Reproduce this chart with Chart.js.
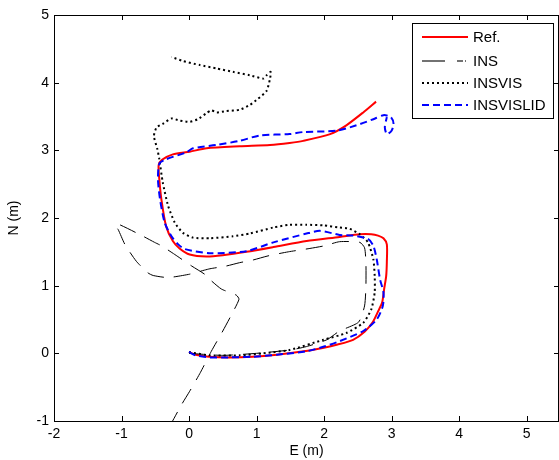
<!DOCTYPE html>
<html>
<head>
<meta charset="utf-8">
<script src="https://cdn.jsdelivr.net/npm/chart.js@4/dist/chart.umd.min.js"></script>
<style>
  html, body { margin: 0; padding: 0; background: #fff; }
  #plot { display: block; }
</style>
</head>
<body>
<canvas id="plot" width="559" height="460"></canvas>
<script>
// axis ticks
const eTicks = [-2, -1, 0, 1, 2, 3, 4, 5];
const nTicks = [-1, 0, 1, 2, 3, 4, 5];

// Ref. trajectory
const refE = [0, 0.1, 0.3, 0.6, 0.94, 1.3, 1.7, 1.98, 2.2, 2.43, 2.6, 2.72, 2.8, 2.86, 2.89, 2.92, 2.93, 2.93, 2.88, 2.8, 2.7, 2.53, 2.23, 1.74, 1.25, 0.85, 0.5, 0.26, 0.01, -0.14, -0.24, -0.34, -0.41, -0.44, -0.45, -0.4, -0.24, 0.01, 0.26, 0.75, 1.2, 1.49, 1.69, 2.09, 2.33, 2.58, 2.77];
const refN = [0.02, -0.02, -0.05, -0.06, -0.05, -0.02, 0.03, 0.08, 0.13, 0.2, 0.32, 0.46, 0.62, 0.75, 0.95, 1.14, 1.35, 1.61, 1.7, 1.74, 1.76, 1.76, 1.72, 1.66, 1.57, 1.5, 1.45, 1.43, 1.46, 1.55, 1.66, 1.88, 2.28, 2.57, 2.78, 2.86, 2.94, 2.98, 3.03, 3.06, 3.08, 3.11, 3.14, 3.24, 3.37, 3.56, 3.72];

// INS only
const insE = [0, 0.5, 1.0, 1.5, 1.74, 2.04, 2.23, 2.51, 2.6, 2.62, 2.62, 2.6, 2.53, 2.23, 2.01, 1.79, 1.47, 1.17, 0.95, 0.75, 0.55, 0.31, 0.23, 0.01, -0.31, -0.53, -0.61, -0.78, -0.95, -1.05, -1.1, -1.05, -0.68, -0.51, -0.41, -0.21, 0.04, 0.23, 0.31, 0.48, 0.7, 0.74, 0.65, 0.5, 0.33, 0.17, 0.01, -0.1, -0.26];
const insN = [0, -0.03, 0, 0.05, 0.1, 0.2, 0.33, 0.46, 0.7, 0.99, 1.34, 1.56, 1.64, 1.65, 1.59, 1.55, 1.5, 1.44, 1.38, 1.34, 1.29, 1.25, 1.23, 1.17, 1.12, 1.15, 1.19, 1.36, 1.61, 1.83, 1.89, 1.91, 1.73, 1.64, 1.59, 1.46, 1.29, 1.17, 1.09, 0.95, 0.86, 0.8, 0.61, 0.33, 0.03, -0.28, -0.56, -0.74, -1.03];

// INS + vision
const insvisE = [0, 0.3, 0.75, 1.1, 1.49, 1.99, 2.33, 2.58, 2.7, 2.75, 2.75, 2.73, 2.65, 2.53, 2.38, 2.23, 1.99, 1.74, 1.49, 1.25, 0.9, 0.65, 0.31, 0.06, -0.09, -0.21, -0.31, -0.39, -0.44, -0.47, -0.52, -0.48, -0.39, -0.26, -0.14, 0.01, 0.13, 0.26, 0.33, 0.41, 0.55, 0.75, 0.9, 1.02, 1.15, 1.2, 1.21, 1.15, 1.1, 0.9, 0.65, 0.41, 0.16, -0.09, -0.26];
const insvisN = [0.02, -0.03, -0.03, 0, 0.05, 0.2, 0.3, 0.45, 0.65, 0.9, 1.14, 1.39, 1.64, 1.76, 1.84, 1.86, 1.89, 1.9, 1.9, 1.86, 1.77, 1.73, 1.7, 1.71, 1.78, 1.93, 2.18, 2.53, 2.87, 3.02, 3.21, 3.34, 3.39, 3.47, 3.44, 3.42, 3.46, 3.55, 3.59, 3.56, 3.58, 3.6, 3.67, 3.76, 3.88, 4.06, 4.16, 4.11, 4.06, 4.11, 4.16, 4.21, 4.26, 4.32, 4.38];

// INS + vision + lidar
const lidE = [0, 0.1, 0.3, 0.6, 0.95, 1.3, 1.74, 2.0, 2.23, 2.58, 2.78, 2.87, 2.88, 2.83, 2.78, 2.73, 2.65, 2.43, 2.23, 1.94, 1.74, 1.25, 0.85, 0.31, -0.06, -0.16, -0.26, -0.36, -0.43, -0.46, -0.44, -0.36, -0.04, 0.06, 0.41, 0.75, 1.05, 1.49, 1.69, 2.19, 2.48, 2.73, 2.88, 2.99, 3.03, 3.0, 2.93, 2.9, 2.93];
const lidN = [0.02, -0.03, -0.06, -0.06, -0.05, -0.02, 0.03, 0.1, 0.18, 0.33, 0.5, 0.7, 0.9, 1.09, 1.39, 1.59, 1.69, 1.74, 1.75, 1.81, 1.77, 1.64, 1.51, 1.48, 1.54, 1.61, 1.73, 1.93, 2.28, 2.57, 2.8, 2.86, 2.97, 3.03, 3.08, 3.14, 3.22, 3.24, 3.27, 3.29, 3.37, 3.46, 3.52, 3.49, 3.39, 3.29, 3.24, 3.34, 3.49];

const toPoints = (xs, ys) => xs.map((x, i) => ({ x: x, y: ys[i] }));
const fontFamily = '"Liberation Sans", Arial, Helvetica, sans-serif';

// box round the plot with inward ticks on all four sides
const frameBox = {
    id: 'frameBox',
    afterDraw(chart) {
        const { ctx, chartArea: a, scales } = chart;
        const len = 5;
        ctx.save();
        ctx.strokeStyle = '#000';
        ctx.lineWidth = 1;
        ctx.strokeRect(Math.round(a.left) + 0.5, Math.round(a.top) + 0.5,
            Math.round(a.right - a.left) - 1, Math.round(a.bottom - a.top));
        ctx.beginPath();
        eTicks.forEach(v => {
            const px = Math.round(scales.x.getPixelForValue(v)) + 0.5;
            ctx.moveTo(px, a.bottom); ctx.lineTo(px, a.bottom - len);
            ctx.moveTo(px, a.top); ctx.lineTo(px, a.top + len);
        });
        nTicks.forEach(v => {
            const py = Math.round(scales.y.getPixelForValue(v)) + 0.5;
            ctx.moveTo(a.left, py); ctx.lineTo(a.left + len, py);
            ctx.moveTo(a.right, py); ctx.lineTo(a.right - len, py);
        });
        ctx.stroke();
        ctx.restore();
    }
};

// MATLAB style legend box in the upper right corner
const boxLegend = {
    id: 'boxLegend',
    afterDatasetsDraw(chart) {
        const { ctx, chartArea: a } = chart;
        const w = 141, h = 95;
        const x0 = Math.round(a.right - 6 - w), y0 = Math.round(a.top + 8);
        ctx.save();
        ctx.fillStyle = '#fff';
        ctx.fillRect(x0, y0, w, h);
        ctx.strokeStyle = '#000';
        ctx.lineWidth = 1;
        ctx.strokeRect(x0 + 0.5, y0 + 0.5, w, h);
        const rows = [14, 38, 60, 82];
        chart.data.datasets.forEach((ds, i) => {
            const y = y0 + rows[i];
            ctx.beginPath();
            ctx.strokeStyle = ds.legendColor || ds.borderColor;
            ctx.lineWidth = ds.legendWidth || ds.borderWidth;
            ctx.setLineDash(ds.legendDash || ds.borderDash || []);
            ctx.moveTo(x0 + 10, y);
            ctx.lineTo(x0 + 56, y);
            ctx.stroke();
            ctx.setLineDash([]);
            ctx.fillStyle = '#000';
            ctx.font = '15px ' + fontFamily;
            ctx.textBaseline = 'middle';
            ctx.fillText(ds.label, x0 + 61, y + 1);
        });
        ctx.restore();
    }
};

new Chart(document.getElementById('plot'), {
    type: 'scatter',
    data: {
        datasets: [
            {
                label: 'Ref.',
                data: toPoints(refE, refN),
                showLine: true,
                borderColor: '#ff0000',
                borderWidth: 2,
                pointRadius: 0,
                tension: 0.25,
                order: 3
            },
            {
                label: 'INS',
                data: toPoints(insE, insN),
                showLine: true,
                borderColor: '#000',
                legendColor: '#444',
                borderWidth: 1,
                legendWidth: 1.5,
                borderDash: [17, 10],
                legendDash: [23, 12, 6, 2, 1],
                pointRadius: 0,
                tension: 0.2,
                order: 2
            },
            {
                label: 'INSVIS',
                data: toPoints(insvisE, insvisN),
                showLine: true,
                borderColor: '#000',
                borderWidth: 2,
                borderDash: [2, 3],
                pointRadius: 0,
                tension: 0.2,
                order: 1
            },
            {
                label: 'INSVISLID',
                data: toPoints(lidE, lidN),
                showLine: true,
                borderColor: '#0000ff',
                borderWidth: 2,
                borderDash: [7, 4],
                pointRadius: 0,
                tension: 0.25,
                order: 0
            }
        ]
    },
    options: {
        responsive: false,
        animation: false,
        devicePixelRatio: 1,
        layout: { padding: { top: 15, right: 0, left: 0, bottom: 0 } },
        plugins: {
            legend: { display: false },
            tooltip: { enabled: false }
        },
        scales: {
            x: {
                type: 'linear',
                min: -2,
                max: 5.48,
                afterBuildTicks: scale => { scale.ticks = eTicks.map(v => ({ value: v })); },
                afterFit: scale => { scale.height = 39; },
                grid: { display: false, drawTicks: false },
                border: { display: false },
                ticks: { color: '#000', padding: 5, font: { family: fontFamily, size: 14 } },
                title: {
                    display: true,
                    text: 'E (m)',
                    color: '#000',
                    padding: 0,
                    font: { family: fontFamily, size: 14 }
                }
            },
            y: {
                type: 'linear',
                min: -1,
                max: 5,
                afterBuildTicks: scale => { scale.ticks = nTicks.map(v => ({ value: v })); },
                afterFit: scale => { scale.width = 54; },
                grid: { display: false, drawTicks: false },
                border: { display: false },
                ticks: { color: '#000', padding: 5, font: { family: fontFamily, size: 14 } },
                title: {
                    display: true,
                    text: 'N (m)',
                    color: '#000',
                    padding: 6,
                    font: { family: fontFamily, size: 14 }
                }
            }
        }
    },
    plugins: [frameBox, boxLegend]
});
</script>
</body>
</html>
